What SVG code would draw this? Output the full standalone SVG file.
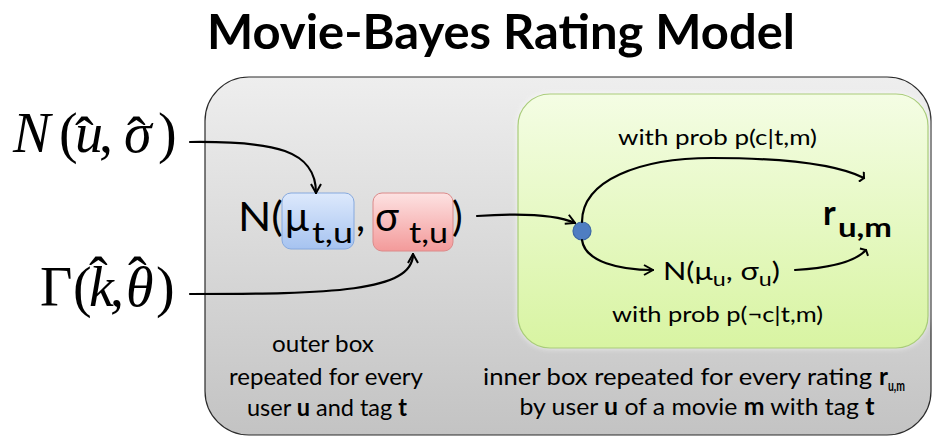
<svg xmlns="http://www.w3.org/2000/svg" width="935" height="437" viewBox="0 0 935 437">
  <style>
    .sans { font-family: Lato, "Open Sans", "Liberation Sans", sans-serif; fill: #000; }
    .math { font-family: "Liberation Serif", "DejaVu Serif", serif; fill: #000; font-size: 56px; }
    .it { font-style: italic; }
    .b { font-weight: bold; }
    .wire { fill: none; stroke: #000; stroke-width: 2.2; stroke-linecap: round; }
  </style>
  <defs>
    <linearGradient id="outerFill" x1="0" y1="0" x2="0" y2="1">
      <stop offset="0" stop-color="#eeeeee"/>
      <stop offset="1" stop-color="#c3c3c3"/>
    </linearGradient>
    <linearGradient id="innerFill" x1="0" y1="0" x2="0" y2="1">
      <stop offset="0" stop-color="#f4fde4"/>
      <stop offset="1" stop-color="#d8f4a2"/>
    </linearGradient>
    <linearGradient id="blueFill" x1="0" y1="0" x2="0" y2="1">
      <stop offset="0" stop-color="#dde9fc"/>
      <stop offset="1" stop-color="#a6c3f0"/>
    </linearGradient>
    <linearGradient id="redFill" x1="0" y1="0" x2="0" y2="1">
      <stop offset="0" stop-color="#fde2e2"/>
      <stop offset="1" stop-color="#f39a9a"/>
    </linearGradient>
    <filter id="glow" x="-10%" y="-10%" width="120%" height="120%">
      <feGaussianBlur stdDeviation="3"/>
    </filter>
    <marker id="arrow" viewBox="0 0 12 12" refX="11" refY="6" markerWidth="12" markerHeight="12" markerUnits="userSpaceOnUse" orient="auto">
      <path d="M2,1 L11,6 L2,11" fill="none" stroke="#000" stroke-width="2"/>
    </marker>
    <marker id="wide" viewBox="0 0 12 12" refX="10" refY="6" markerWidth="12" markerHeight="12" markerUnits="userSpaceOnUse" orient="auto">
      <path d="M7,0.5 L10,6 L7,11.5" fill="none" stroke="#000" stroke-width="2"/>
    </marker>
  </defs>

  <!-- title -->
  <text class="sans b" x="501" y="49" font-size="48" text-anchor="middle" textLength="588" lengthAdjust="spacingAndGlyphs">Movie-Bayes Rating Model</text>

  <!-- outer plate: one per user and tag -->
  <g id="outer-box">
    <rect x="205" y="77" width="726" height="358" rx="44" fill="url(#outerFill)" stroke="#2a2a2a" stroke-width="1.2"/>
    <text class="sans" font-size="24" text-anchor="middle">
      <tspan x="326" y="352" textLength="102" lengthAdjust="spacingAndGlyphs">outer box</tspan>
      <tspan x="326" y="385" textLength="194" lengthAdjust="spacingAndGlyphs">repeated for every</tspan>
    </text>
    <text class="sans" font-size="24" x="327" y="416" text-anchor="middle" textLength="160" lengthAdjust="spacingAndGlyphs">user <tspan class="b">u</tspan> and tag <tspan class="b">t</tspan></text>
  </g>

  <!-- inner plate: one per rating -->
  <g id="inner-box">
    <rect x="518" y="94" width="410" height="254" rx="32" fill="#ffffff" opacity="0.8" filter="url(#glow)"/>
    <rect x="518" y="94" width="410" height="254" rx="32" fill="url(#innerFill)" stroke="#a9cc7a" stroke-width="1.2"/>
    <text class="sans" font-size="24" x="483" y="385" textLength="389" lengthAdjust="spacingAndGlyphs">inner box repeated for every rating</text>
    <text class="sans b" font-size="24" x="879" y="385">r</text>
    <text class="sans b" font-size="15" x="888" y="391" textLength="17" lengthAdjust="spacingAndGlyphs">u,m</text>
    <text class="sans" font-size="24" x="697" y="415" text-anchor="middle" textLength="355" lengthAdjust="spacingAndGlyphs">by user <tspan class="b">u</tspan> of a movie <tspan class="b">m</tspan> with tag <tspan class="b">t</tspan></text>
  </g>

  <!-- hyperpriors (hats set as positioned circumflex glyphs) -->
  <g id="prior-normal">
    <text class="math"><tspan class="it" x="13" y="152">N</tspan><tspan x="59" y="152">(</tspan><tspan class="it" x="75" y="152">u</tspan><tspan x="75" y="156">ˆ</tspan><tspan x="99" y="152">,</tspan><tspan class="it" x="124" y="152">σ</tspan><tspan x="127" y="156">ˆ</tspan><tspan x="158" y="152">)</tspan></text>
  </g>
  <g id="prior-gamma">
    <text class="math"><tspan x="40" y="306">Γ</tspan><tspan x="73" y="306">(</tspan><tspan class="it" x="89" y="306">k</tspan><tspan x="89" y="296">ˆ</tspan><tspan x="110" y="306">,</tspan><tspan class="it" x="126" y="306">θ</tspan><tspan x="128" y="296">ˆ</tspan><tspan x="156" y="306">)</tspan></text>
  </g>

  <!-- per-user, per-tag distribution -->
  <g id="user-tag-dist">
    <text class="sans" font-size="40" x="238" y="231" textLength="45" lengthAdjust="spacingAndGlyphs">N(</text>
    <g id="mu-box">
      <rect x="282" y="193" width="72" height="56" rx="9" fill="url(#blueFill)" stroke="#86a9de" stroke-width="1"/>
      <text class="sans" font-size="40" x="285" y="231">μ</text>
      <text class="sans" font-size="28" x="312" y="243" textLength="41" lengthAdjust="spacingAndGlyphs">t,u</text>
    </g>
    <text class="sans" font-size="40" x="356" y="231">,</text>
    <g id="sigma-box">
      <rect x="373" y="193" width="80" height="58" rx="9" fill="url(#redFill)" stroke="#dc8a8a" stroke-width="1"/>
      <text class="sans" font-size="40" x="375" y="231">σ</text>
      <text class="sans" font-size="28" x="409" y="243" textLength="39" lengthAdjust="spacingAndGlyphs">t,u</text>
    </g>
    <text class="sans" font-size="40" x="452" y="231">)</text>
  </g>

  <!-- switch point -->
  <g id="switch">
    <circle cx="582" cy="231" r="9" fill="#4f7ec2" stroke="#3b67a6" stroke-width="1.2"/>
  </g>

  <!-- rating-level nodes and labels -->
  <g id="user-dist">
    <text class="sans" font-size="25" x="663" y="280" textLength="117" lengthAdjust="spacingAndGlyphs">N(μ<tspan font-size="19" dy="6">u</tspan><tspan dy="-6">, σ</tspan><tspan font-size="19" dy="6">u</tspan><tspan dy="-6">)</tspan></text>
  </g>
  <g id="rating">
    <text class="sans b" font-size="34" x="823" y="225">r</text>
    <text class="sans b" font-size="27" x="838" y="237" textLength="54" lengthAdjust="spacingAndGlyphs">u,m</text>
  </g>
  <g id="labels">
    <text class="sans" font-size="22" x="717.5" y="145" text-anchor="middle" textLength="199" lengthAdjust="spacingAndGlyphs">with prob p(c|t,m)</text>
    <text class="sans" font-size="22" x="717.5" y="322" text-anchor="middle" textLength="211" lengthAdjust="spacingAndGlyphs">with prob p(¬c|t,m)</text>
  </g>

  <!-- connectors -->
  <g id="connectors">
    <path class="wire" d="M190,142 C275,141 316,150 316,193" marker-end="url(#arrow)"/>
    <path class="wire" d="M190,294 C330,294 413,292 413,254" marker-end="url(#arrow)"/>
    <path class="wire" d="M477,216 C520,213 555,214 575,223" marker-end="url(#arrow)"/>
    <path class="wire" d="M582,222 C582,180 640,158 712,158 C790,158 840,166 864,178" marker-end="url(#wide)"/>
    <path class="wire" d="M582,240 C585,262 620,270 653,270" marker-end="url(#arrow)"/>
    <path class="wire" d="M795,270 C830,268 855,262 866,250" marker-end="url(#wide)"/>
  </g>
</svg>
